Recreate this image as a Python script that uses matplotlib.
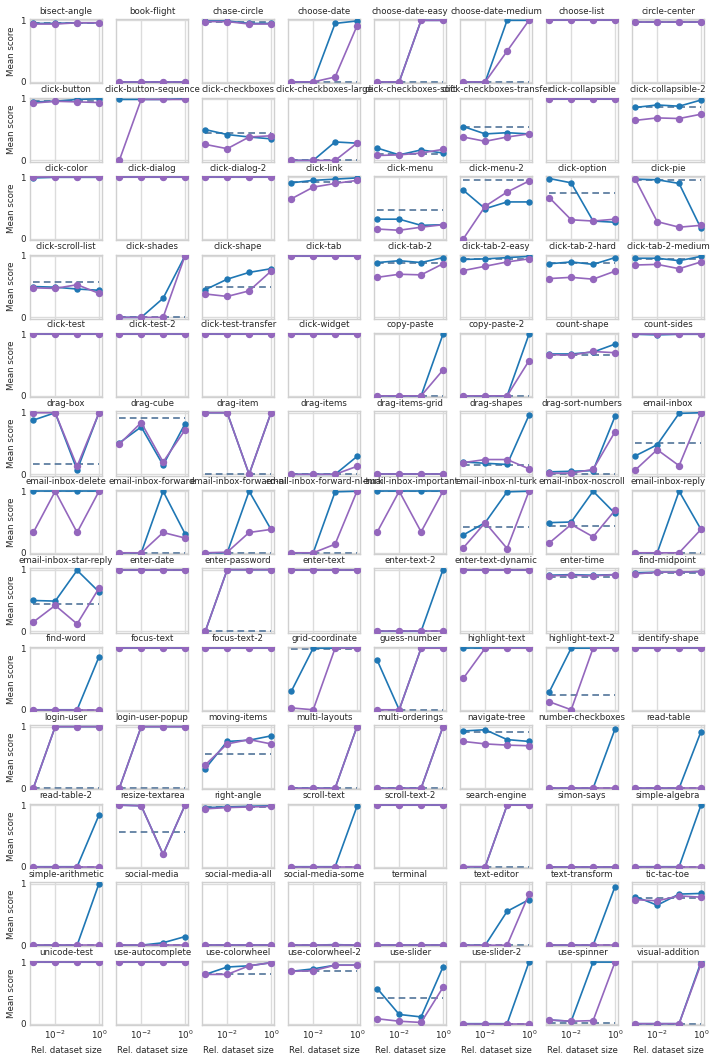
import matplotlib
matplotlib.use("Agg")
import matplotlib.pyplot as plt
from matplotlib.ticker import NullLocator, FixedLocator

sizes = [1e-3, 1e-2, 1e-1, 1e0]

tasks = [
    "bisect-angle", "book-flight", "chase-circle", "choose-date", "choose-date-easy",
    "choose-date-medium", "choose-list", "circle-center",
    "click-button", "click-button-sequence", "click-checkboxes", "click-checkboxes-large",
    "click-checkboxes-soft", "click-checkboxes-transfer", "click-collapsible", "click-collapsible-2",
    "click-color", "click-dialog", "click-dialog-2", "click-link", "click-menu", "click-menu-2",
    "click-option", "click-pie",
    "click-scroll-list", "click-shades", "click-shape", "click-tab", "click-tab-2",
    "click-tab-2-easy", "click-tab-2-hard", "click-tab-2-medium",
    "click-test", "click-test-2", "click-test-transfer", "click-widget", "copy-paste",
    "copy-paste-2", "count-shape", "count-sides",
    "drag-box", "drag-cube", "drag-item", "drag-items", "drag-items-grid", "drag-shapes",
    "drag-sort-numbers", "email-inbox",
    "email-inbox-delete", "email-inbox-forward", "email-inbox-forward-nl",
    "email-inbox-forward-nl-turk", "email-inbox-important", "email-inbox-nl-turk",
    "email-inbox-noscroll", "email-inbox-reply",
    "email-inbox-star-reply", "enter-date", "enter-password", "enter-text", "enter-text-2",
    "enter-text-dynamic", "enter-time", "find-midpoint",
    "find-word", "focus-text", "focus-text-2", "grid-coordinate", "guess-number",
    "highlight-text", "highlight-text-2", "identify-shape",
    "login-user", "login-user-popup", "moving-items", "multi-layouts", "multi-orderings",
    "navigate-tree", "number-checkboxes", "read-table",
    "read-table-2", "resize-textarea", "right-angle", "scroll-text", "scroll-text-2",
    "search-engine", "simon-says", "simple-algebra",
    "simple-arithmetic", "social-media", "social-media-all", "social-media-some", "terminal",
    "text-editor", "text-transform", "tic-tac-toe",
    "unicode-test", "use-autocomplete", "use-colorwheel", "use-colorwheel-2", "use-slider",
    "use-slider-2", "use-spinner", "visual-addition",
]

blue = [
    [0.95, 0.95, 0.96, 0.96], [0, 0, 0, 0], [0.99, 0.99, 0.95, 0.95], [0, 0, 0.95, 0.99],
    [0, 0, 1, 1], [0, 0, 1, 1], [1, 1, 1, 1], [0.97, 0.97, 0.97, 0.97],
    [0.95, 0.96, 0.99, 1.0], [0.99, 0.99, 0.99, 1.0], [0.50, 0.42, 0.38, 0.35], [0, 0, 0.30, 0.28],
    [0.20, 0.09, 0.17, 0.12], [0.55, 0.43, 0.45, 0.43], [1, 1, 1, 1], [0.86, 0.90, 0.88, 0.98],
    [0.99, 1, 1, 1], [1, 1, 1, 1], [1, 1, 1, 1], [0.91, 0.95, 0.97, 0.99],
    [0.32, 0.32, 0.22, 0.23], [0.79, 0.49, 0.60, 0.60], [0.98, 0.91, 0.29, 0.27], [0.97, 0.96, 0.90, 0.17],
    [0.50, 0.49, 0.46, 0.44], [0, 0, 0.31, 1.0], [0.45, 0.62, 0.73, 0.79], [1, 1, 1, 1],
    [0.89, 0.92, 0.89, 0.97], [0.94, 0.95, 0.97, 0.99], [0.87, 0.90, 0.86, 0.97], [0.96, 0.96, 0.92, 0.99],
    [1, 1, 1, 1], [1, 1, 1, 1], [1, 1, 1, 1], [1, 1, 1, 1],
    [0, 0, 0, 1], [0, 0, 0, 1], [0.68, 0.68, 0.71, 0.84], [1, 0.99, 1, 1],
    [0.88, 1, 0.07, 1], [0.51, 0.77, 0.15, 0.82], [1, 1, 0, 1], [0, 0, 0, 0.29],
    [0, 0, 0, 0], [0.20, 0.18, 0.16, 0.96], [0.04, 0.05, 0.06, 0.94], [0.30, 0.48, 0.99, 1.0],
    [1, 1, 1, 1], [0, 0, 1, 0.31], [0, 0, 1, 0.38], [0, 0, 0.99, 1],
    [1, 1, 1, 1], [0.29, 0.49, 0.99, 1.0], [0.49, 0.50, 1.0, 0.64], [0, 0, 1, 0.38],
    [0.50, 0.49, 0.99, 0.64], [1, 1, 1, 1], [0, 1, 1, 1], [1, 1, 1, 1],
    [0, 0, 0, 1], [1, 1, 1, 1], [0.91, 0.92, 0.91, 0.92], [0.95, 0.96, 0.96, 0.97],
    [0, 0, 0, 0.86], [1, 1, 1, 1], [1, 1, 1, 1], [0.30, 1, 1, 1],
    [0.80, 0, 1, 1], [1, 1, 1, 1], [0.29, 1, 1, 1], [1, 1, 1, 1],
    [0, 1, 1, 1], [0, 1, 1, 1], [0.32, 0.76, 0.78, 0.85], [0, 0, 0, 1],
    [0, 0, 0, 1], [0.93, 0.95, 0.79, 0.76], [0, 0, 0, 0.96], [0, 0, 0, 0.92],
    [0, 0, 0, 0.84], [1, 0.99, 0.2, 1], [0.96, 0.97, 0.98, 0.99], [0, 0, 0, 0.98],
    [1, 1, 1, 1], [0, 0, 1, 1], [0, 0, 0, 0], [0, 0, 0, 1],
    [0, 0, 0, 1], [0, 0, 0.04, 0.14], [0, 0, 0, 0], [0, 0, 0.01, 0],
    [0, 0, 0, 0], [0, 0, 0.55, 0.74], [0, 0, 0, 0.95], [0.79, 0.65, 0.83, 0.84],
    [1, 1, 1, 1], [1, 1, 1, 1], [0.80, 0.92, 0.94, 0.99], [0.85, 0.89, 0.95, 0.95],
    [0.57, 0.15, 0.11, 0.92], [0, 0, 0, 1], [0.06, 0.04, 1, 1], [0, 0, 0, 1],
]

purple = [
    [0.94, 0.94, 0.96, 0.96], [0, 0, 0, 0], [0.98, 0.98, 0.94, 0.94], [0, 0, 0.08, 0.91],
    [0, 0, 1, 1], [0, 0, 0.5, 1], [1, 1, 1, 1], [0.97, 0.97, 0.97, 0.97],
    [0.93, 0.96, 0.95, 0.94], [0, 0.99, 0.99, 0.99], [0.26, 0.19, 0.38, 0.40], [0, 0, 0, 0.28],
    [0.08, 0.09, 0.12, 0.18], [0.38, 0.31, 0.38, 0.43], [1, 1, 1, 1], [0.65, 0.69, 0.68, 0.75],
    [1, 1, 1, 1], [1, 1, 1, 1], [1, 1, 1, 1], [0.65, 0.84, 0.90, 0.95],
    [0.16, 0.14, 0.19, 0.23], [0.0, 0.53, 0.76, 0.94], [0.67, 0.31, 0.29, 0.32], [0.97, 0.28, 0.19, 0.22],
    [0.48, 0.47, 0.53, 0.39], [0, 0, 0, 1], [0.38, 0.34, 0.43, 0.75], [1, 1, 1, 1],
    [0.65, 0.70, 0.69, 0.87], [0.76, 0.83, 0.90, 0.95], [0.63, 0.65, 0.62, 0.75], [0.85, 0.86, 0.79, 0.90],
    [1, 1, 1, 1], [1, 1, 1, 1], [1, 1, 1, 1], [1, 1, 1, 1],
    [0, 0, 0, 0.42], [0, 0, 0, 0.57], [0.67, 0.66, 0.72, 0.70], [1, 1, 1, 1],
    [1, 1, 0.13, 1], [0.49, 0.84, 0.20, 0.72], [1, 1, 0, 1], [0, 0, 0, 0.13],
    [0, 0, 0, 0], [0.19, 0.24, 0.24, 0.09], [0.02, 0.02, 0.08, 0.69], [0.07, 0.40, 0.14, 1.0],
    [0.33, 1, 0.33, 1], [0, 0, 0.33, 0.24], [0, 0.01, 0.33, 0.38], [0, 0, 0.14, 1],
    [0.34, 1, 0.34, 1], [0.08, 0.49, 0.07, 1.0], [0.16, 0.46, 0.26, 0.69], [0, 0, 0, 0.38],
    [0.15, 0.42, 0.12, 0.70], [1, 1, 1, 1], [0, 1, 1, 1], [1, 1, 1, 1],
    [0, 0, 0, 0], [1, 1, 1, 1], [0.90, 0.91, 0.90, 0.92], [0.93, 0.96, 0.96, 0.97],
    [0, 0, 0, 0], [1, 1, 1, 1], [1, 1, 1, 1], [0.03, 0, 1, 1],
    [0, 0, 1, 1], [0.51, 1, 1, 1], [0.13, 0, 1, 1], [1, 1, 1, 1],
    [0, 1, 1, 1], [0, 1, 1, 1], [0.38, 0.72, 0.79, 0.72], [0, 0, 0, 1],
    [0, 0, 0, 1], [0.76, 0.72, 0.70, 0.69], [0, 0, 0, 0], [0, 0, 0, 0],
    [0, 0, 0, 0], [1, 0.99, 0.2, 1], [0.94, 0.96, 0.97, 0.98], [0, 0, 0, 0],
    [1, 1, 1, 1], [0, 0, 1, 1], [0, 0, 0, 0], [0, 0, 0, 0],
    [0, 0, 0, 0], [0, 0, 0, 0], [0, 0, 0, 0], [0, 0, 0, 0],
    [0, 0, 0, 0], [0, 0, 0, 0.83], [0, 0, 0, 0], [0.74, 0.72, 0.80, 0.78],
    [1, 1, 1, 1], [1, 1, 1, 1], [0.80, 0.80, 0.94, 0.99], [0.85, 0.86, 0.95, 0.95],
    [0.08, 0.04, 0.02, 0.59], [0, 0, 0, 0], [0.06, 0.04, 0.05, 1], [0, 0, 0, 0.97],
]

baseline = [
    0.96, 0, 0.98, 0, 0, 0, 1, 0.97,
    0.96, 0.99, 0.44, 0, 0.11, 0.54, 1, 0.86,
    1, 1, 1, 0.92, 0.47, 0.96, 0.75, 0.95,
    0.57, 0, 0.49, 1, 0.88, 0.94, 0.88, 0.94,
    1, 1, 1, 1, 0, 0, 0.66, 1,
    0.16, 0.91, 0, 0, 0, 0.15, 0.0, 0.51,
    1, 0, 0, 0, 1, 0.42, 0.44, 0,
    0.45, 1, 0, 1, 0, 1, 0.88, 0.95,
    0, 1, 1, 0.98, 0, 1, 0.24, 1,
    0, 0, 0.56, 0, 0, 0.92, 0, 0,
    0, 0.56, 0.97, 0, 1, 0, 0, 0,
    0, 0, 0, 0, 0, 0, 0, 0.76,
    1, 1, 0.80, 0.85, 0.41, 0, 0.01, 0,
]

BLUE = "#1f77b4"
PURPLE = "#9467bd"
DASH = "#52749a"
FS = 6.0

plt.rcParams.update({
    "font.family": ["DejaVu Sans"],
    "axes.edgecolor": "#d0d0d0",
    "axes.linewidth": 1.0,
    "grid.color": "#dcdcdc",
    "grid.linewidth": 1.0,
    "xtick.color": "#262626",
    "ytick.color": "#262626",
})

ncols, nrows = 8, 13
fig, axes = plt.subplots(nrows, ncols, figsize=(7.15, 10.61), dpi=100,
                         sharex=True, sharey=True)
fig.subplots_adjust(left=0.042, right=0.985, top=0.982, bottom=0.034,
                    wspace=0.19, hspace=0.225)

for i, ax in enumerate(axes.flat):
    ax.set_xscale("log")
    ax.grid(True, which="major")
    ax.set_axisbelow(True)
    for s in ax.spines.values():
        s.set_color("#d0d0d0")
    ax.tick_params(length=0, labelsize=FS + 0.3, pad=3)
    if i < len(tasks):
        ax.plot([sizes[0], sizes[-1]], [baseline[i], baseline[i]], ls=(0, (4, 2.5)),
                color=DASH, lw=1.2, zorder=2)
        ax.plot(sizes, blue[i], "-o", color=BLUE, lw=1.2, ms=3.6, zorder=3)
        ax.plot(sizes, purple[i], "-o", color=PURPLE, lw=1.2, ms=4.3, zorder=4)
        ax.set_title(tasks[i], fontsize=FS + 0.2, pad=4, color="#262626")
    if i % ncols == 0:
        ax.set_ylabel("Mean score", fontsize=FS + 0.2, color="#262626", labelpad=3)
    if i // ncols == nrows - 1:
        ax.set_xlabel("Rel. dataset size", fontsize=FS + 0.2, color="#262626", labelpad=3)

ax0 = axes[0, 0]
ax0.set_xlim(10 ** -3.15, 10 ** 0.15)
ax0.xaxis.set_major_locator(FixedLocator([1e-2, 1e0]))
ax0.xaxis.set_minor_locator(NullLocator())
ax0.set_ylim(-0.02, 1.02)
ax0.set_yticks([0, 1])
ax0.set_yticklabels(["0", "1"])

fig.savefig("out.png", dpi=100)
